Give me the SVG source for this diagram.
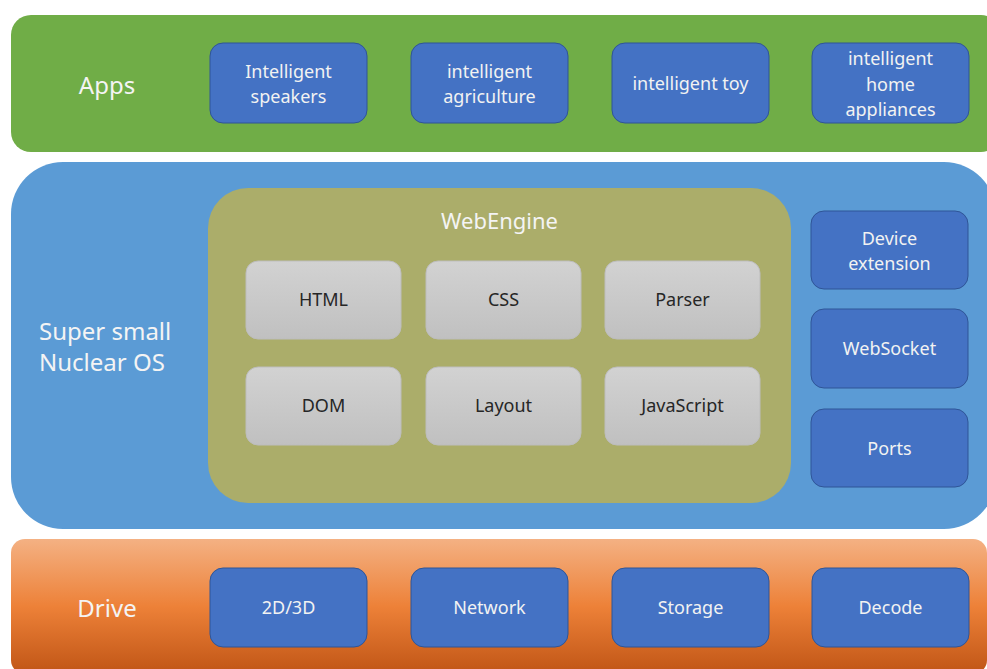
<svg xmlns="http://www.w3.org/2000/svg" width="987" height="669" viewBox="0 0 987 669">
<defs>
<linearGradient id="gDrive" x1="0" y1="0" x2="0" y2="1">
<stop offset="0" stop-color="#F4B183"/>
<stop offset="0.5" stop-color="#ED8138"/>
<stop offset="1" stop-color="#C05516"/>
</linearGradient>
<linearGradient id="gGray" x1="0" y1="0" x2="0" y2="1">
<stop offset="0" stop-color="#D2D2D2"/>
<stop offset="1" stop-color="#C0C0C0"/>
</linearGradient>
<style>
.band-label{font-family:"Noto Sans","Open Sans",sans-serif;font-size:24px;fill:#F4F4F4;}
.blue{fill:#4472C4;stroke:#2F5597;stroke-width:1;}
.gray{fill:url(#gGray);stroke:#BDBDBD;stroke-width:1;}
.bt{font-family:"Noto Sans","Open Sans",sans-serif;font-size:18px;fill:#F2F2F2;text-anchor:middle;}
.gt{font-family:"Noto Sans","Open Sans",sans-serif;font-size:18px;fill:#262626;text-anchor:middle;}
</style>
</defs>
<rect width="987" height="669" fill="#FFFFFF"/>

<g id="apps">
<rect x="11" y="15" width="990" height="137" rx="20" fill="#70AD47"/>
<text class="band-label" x="107" y="94" text-anchor="middle">Apps</text>
</g>
<g id="app-speakers">
<rect class="blue" x="210" y="43" width="157" height="80" rx="13"/>
<text class="bt" x="288.5" y="78">Intelligent</text>
<text class="bt" x="288.5" y="103">speakers</text>
</g>
<g id="app-agriculture">
<rect class="blue" x="411" y="43" width="157" height="80" rx="13"/>
<text class="bt" x="489.5" y="78">intelligent</text>
<text class="bt" x="489.5" y="103">agriculture</text>
</g>
<g id="app-toy">
<rect class="blue" x="612" y="43" width="157" height="80" rx="13"/>
<text class="bt" x="690.5" y="90">intelligent toy</text>
</g>
<g id="app-home">
<rect class="blue" x="812" y="43" width="157" height="80" rx="13"/>
<text class="bt" x="890.5" y="65">intelligent</text>
<text class="bt" x="890.5" y="91">home</text>
<text class="bt" x="890.5" y="116">appliances</text>
</g>

<g id="os">
<rect x="11" y="162" width="985" height="367" rx="52" fill="#5B9BD5"/>
<text class="band-label" x="39" y="340">Super small</text>
<text class="band-label" x="39" y="371">Nuclear OS</text>
</g>
<g id="webengine">
<rect x="208" y="188" width="583" height="315" rx="40" fill="#ABAD6A"/>
<text x="499.5" y="229" text-anchor="middle" font-family="Noto Sans, Open Sans, sans-serif" font-size="22" fill="#F4F4F4">WebEngine</text>
</g>
<g id="html">
<rect class="gray" x="246" y="261" width="155" height="78" rx="12"/>
<text class="gt" x="323.5" y="306">HTML</text>
</g>
<g id="css">
<rect class="gray" x="426" y="261" width="155" height="78" rx="12"/>
<text class="gt" x="503.5" y="306">CSS</text>
</g>
<g id="parser">
<rect class="gray" x="605" y="261" width="155" height="78" rx="12"/>
<text class="gt" x="682.5" y="306">Parser</text>
</g>
<g id="dom">
<rect class="gray" x="246" y="367" width="155" height="78" rx="12"/>
<text class="gt" x="323.5" y="412">DOM</text>
</g>
<g id="layout">
<rect class="gray" x="426" y="367" width="155" height="78" rx="12"/>
<text class="gt" x="503.5" y="412">Layout</text>
</g>
<g id="javascript">
<rect class="gray" x="605" y="367" width="155" height="78" rx="12"/>
<text class="gt" x="682.5" y="412">JavaScript</text>
</g>
<g id="device-extension">
<rect class="blue" x="811" y="211" width="157" height="78" rx="13"/>
<text class="bt" x="889.5" y="245">Device</text>
<text class="bt" x="889.5" y="270">extension</text>
</g>
<g id="websocket">
<rect class="blue" x="811" y="309" width="157" height="79" rx="13"/>
<text class="bt" x="889.5" y="355">WebSocket</text>
</g>
<g id="ports">
<rect class="blue" x="811" y="409" width="157" height="78" rx="13"/>
<text class="bt" x="889.5" y="455">Ports</text>
</g>

<g id="drive">
<rect x="11" y="539" width="976" height="135" rx="14" fill="url(#gDrive)"/>
<text class="band-label" x="107" y="617" text-anchor="middle">Drive</text>
</g>
<g id="drv-2d3d">
<rect class="blue" x="210" y="568" width="157" height="79" rx="13"/>
<text class="bt" x="288.5" y="614">2D/3D</text>
</g>
<g id="drv-network">
<rect class="blue" x="411" y="568" width="157" height="79" rx="13"/>
<text class="bt" x="489.5" y="614">Network</text>
</g>
<g id="drv-storage">
<rect class="blue" x="612" y="568" width="157" height="79" rx="13"/>
<text class="bt" x="690.5" y="614">Storage</text>
</g>
<g id="drv-decode">
<rect class="blue" x="812" y="568" width="157" height="79" rx="13"/>
<text class="bt" x="890.5" y="614">Decode</text>
</g>
<g id="connectors"></g>
</svg>
